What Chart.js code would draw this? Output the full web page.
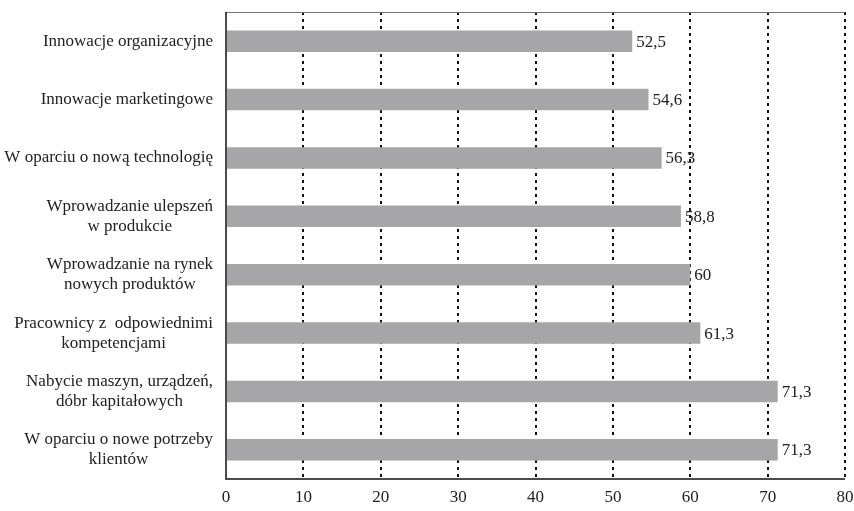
<!DOCTYPE html>
<html lang="pl">
<head>
<meta charset="utf-8">
<title>Innowacje</title>
<script src="https://cdn.jsdelivr.net/npm/chart.js@4/dist/chart.umd.min.js"></script>
<style>
  html, body { margin: 0; padding: 0; background: #fff; }
  #wrap { width: 854px; height: 511px; position: relative; }
</style>
</head>
<body>
<div id="wrap"><canvas id="chart"></canvas></div>
<script>
// kategorie (od góry do dołu) i wartości
const categories = [
  ['Innowacje organizacyjne'],
  ['Innowacje marketingowe'],
  ['W oparciu o nową technologię'],
  ['Wprowadzanie ulepszeń', 'w produkcie'],
  ['Wprowadzanie na rynek', 'nowych produktów'],
  ['Pracownicy z  odpowiednimi', 'kompetencjami'],
  ['Nabycie maszyn, urządzeń,', 'dóbr kapitałowych'],
  ['W oparciu o nowe potrzeby', 'klientów']
];
const values = [52.5, 54.6, 56.3, 58.8, 60, 61.3, 71.3, 71.3];
const xTicks = [0, 10, 20, 30, 40, 50, 60, 70, 80];

const FONT = '"Liberation Serif", "Times New Roman", serif';
const TEXT = '#222';

// etykiety kategorii: wiersze wyśrodkowane względem siebie, blok dosunięty do osi
const categoryLabels = {
  id: 'categoryLabels',
  afterDraw(chart) {
    const { ctx, scales: { y } } = chart;
    const right = 213;
    const lh = 20;
    ctx.save();
    ctx.font = '17px ' + FONT;
    ctx.fillStyle = TEXT;
    ctx.textAlign = 'center';
    ctx.textBaseline = 'middle';
    categories.forEach((lines, i) => {
      const w = Math.max(...lines.map(l => ctx.measureText(l).width));
      const cx = right - w / 2;
      const cy = y.getPixelForValue(i);
      const top = cy - (lines.length - 1) * lh / 2;
      lines.forEach((l, k) => ctx.fillText(l, cx, top + k * lh));
    });
    ctx.restore();
  }
};

// wartości za końcem słupka
const valueLabels = {
  id: 'valueLabels',
  afterDatasetsDraw(chart) {
    const { ctx } = chart;
    const meta = chart.getDatasetMeta(0);
    ctx.save();
    ctx.font = '17px ' + FONT;
    ctx.fillStyle = TEXT;
    ctx.textAlign = 'left';
    ctx.textBaseline = 'middle';
    meta.data.forEach((bar, i) => {
      ctx.fillText(String(values[i]).replace('.', ','), bar.x + 4, bar.y + 1);
    });
    ctx.restore();
  }
};

// ramka obszaru wykresu: górna cienka, lewa i dolna czarne
const frame = {
  id: 'frame',
  afterDatasetsDraw(chart) {
    const { ctx, chartArea: a } = chart;
    ctx.save();
    ctx.strokeStyle = '#777';
    ctx.lineWidth = 1;
    ctx.beginPath();
    ctx.moveTo(a.left, a.top + 0.5);
    ctx.lineTo(a.right, a.top + 0.5);
    ctx.stroke();
    ctx.strokeStyle = '#111';
    ctx.lineWidth = 1.5;
    ctx.beginPath();
    ctx.moveTo(a.left, a.top);
    ctx.lineTo(a.left, a.bottom);
    ctx.lineTo(a.right, a.bottom);
    ctx.stroke();
    ctx.restore();
  }
};

new Chart(document.getElementById('chart'), {
  type: 'bar',
  data: {
    labels: categories.map(c => c.join(' ')),
    datasets: [{
      data: values,
      backgroundColor: '#a6a6a8',
      borderWidth: 0,
      barPercentage: 0.37,
      categoryPercentage: 1
    }]
  },
  options: {
    indexAxis: 'y',
    responsive: true,
    maintainAspectRatio: false,
    animation: false,
    layout: { padding: { top: 12, right: 0, bottom: 4, left: 226 } },
    plugins: {
      legend: { display: false },
      tooltip: { enabled: false }
    },
    scales: {
      x: {
        min: 0,
        max: 80,
        afterBuildTicks: (axis) => { axis.ticks = xTicks.map(v => ({ value: v })); },
        afterFit: (axis) => {
          axis.height = 28;
          axis.paddingLeft = 0;
          axis.paddingRight = 9;
        },
        border: { display: false, dash: [3, 4] },
        grid: {
          color: (c) => c.tick && c.tick.value === 0 ? 'rgba(0,0,0,0)' : '#111',
          lineWidth: 2,
          drawTicks: false
        },
        ticks: {
          padding: 8,
          color: TEXT,
          font: { family: FONT, size: 17 },
          maxRotation: 0
        }
      },
      y: {
        display: false
      }
    }
  },
  plugins: [categoryLabels, valueLabels, frame]
});
</script>
</body>
</html>
